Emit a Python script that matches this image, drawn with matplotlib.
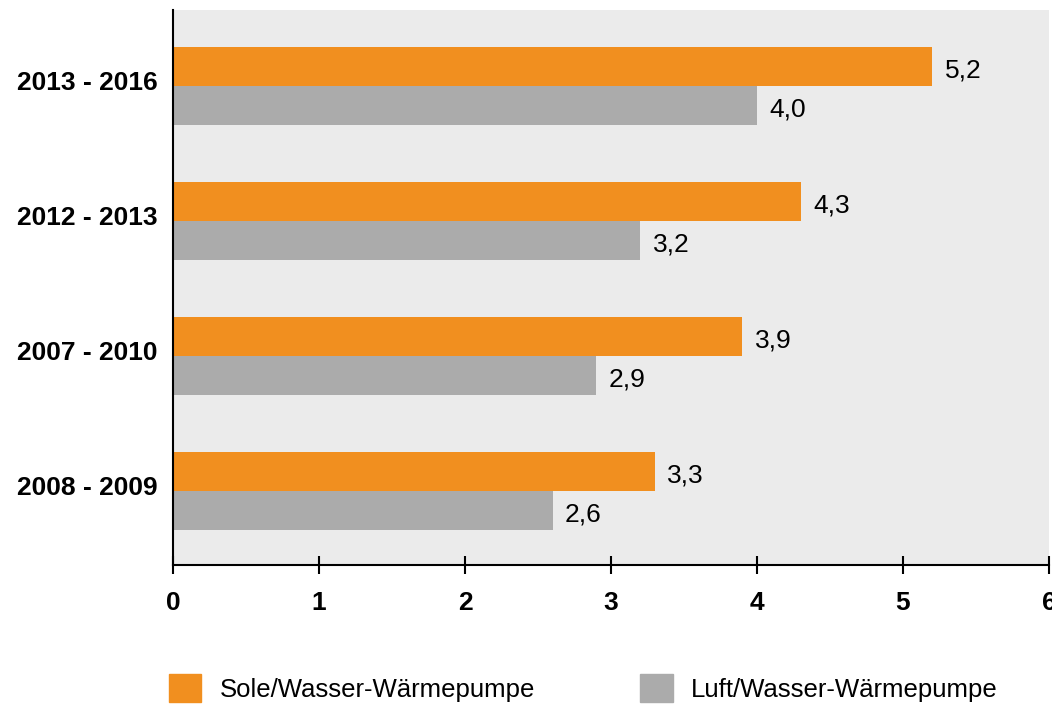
import numpy as np
import matplotlib.pyplot as plt
import matplotlib.transforms as mtransforms
from matplotlib.patches import Patch

plt.rcParams['font.family'] = ['Liberation Sans', 'DejaVu Sans']

# data (top to bottom as in the chart)
periods = ["2013 - 2016", "2012 - 2013", "2007 - 2010", "2008 - 2009"]
sole = [5.2, 4.3, 3.9, 3.3]
luft = [4.0, 3.2, 2.9, 2.6]
sole_label = "Sole/Wasser-Wärmepumpe"
luft_label = "Luft/Wasser-Wärmepumpe"

c_sole = "#F18F1F"
c_luft = "#ABABAB"
c_bg = "#EBEBEB"

fig = plt.figure(figsize=(10.52, 7.05), dpi=100)
ax = fig.add_axes([173/1052, 1 - 565/705, 876/1052, 555/705])
ax.set_facecolor(c_bg)

y = np.arange(len(periods))[::-1]
h = 0.289
b1 = ax.barh(y + h/2, sole, height=h, color=c_sole)
b2 = ax.barh(y - h/2, luft, height=h, color=c_luft)

for bars, vals in ((b1, sole), (b2, luft)):
    for bar, v in zip(bars, vals):
        ax.annotate(f"{v:.1f}".replace(".", ","),
                    xy=(v, bar.get_y() + bar.get_height()/2),
                    xytext=(9, -3), textcoords="offset points",
                    va="center", ha="left", fontsize=19)

ax.set_xlim(0, 6)
ax.set_ylim(-0.55, 3.56)
ax.set_yticks(y)
ax.set_yticklabels(periods, fontsize=19, fontweight="bold")
ax.set_xticks(range(7))
ax.set_xticklabels([str(i) for i in range(7)], fontsize=19, fontweight="bold")
ax.tick_params(axis="y", length=0, pad=11)
ax.tick_params(axis="x", direction="inout", length=13, width=1.5, pad=12)

# nudge the period labels up a little, like the original
shift = mtransforms.ScaledTranslation(0, 4/72, fig.dpi_scale_trans)
for lbl in ax.get_yticklabels():
    lbl.set_transform(lbl.get_transform() + shift)

for s in ("top", "right"):
    ax.spines[s].set_visible(False)
for s in ("left", "bottom"):
    ax.spines[s].set_linewidth(1.5)

handles = [Patch(color=c_sole, label=sole_label), Patch(color=c_luft, label=luft_label)]
fig.legend(handles=handles, loc="center left", bbox_to_anchor=(146/1052, 1 - 688/705),
           ncol=2, frameon=False, fontsize=18.5, handlelength=1.25, handleheight=1.3,
           handletextpad=0.72, columnspacing=4.1)

fig.savefig("out.png", dpi=100)
